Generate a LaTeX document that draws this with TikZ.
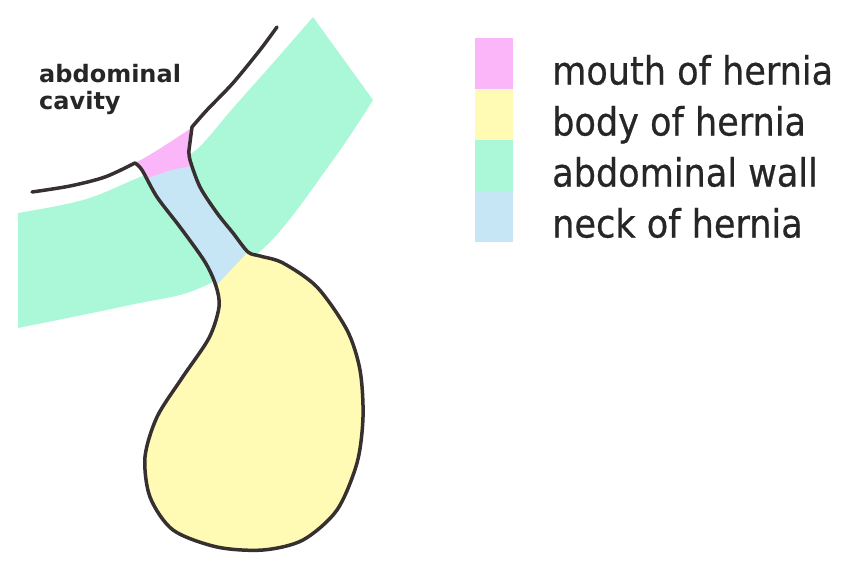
\documentclass[tikz,border=0pt]{standalone}
\usepackage{fontspec}
\setmainfont{DejaVu Sans}
\newfontfamily\keyfont[FakeBold=0.6]{DejaVu Sans Condensed}
\usepackage{tikz}
\usetikzlibrary{positioning}

\definecolor{mouthpink}{HTML}{FBB6FA}
\definecolor{sacyellow}{HTML}{FFFAB4}
\definecolor{wallgreen}{HTML}{AAF8D8}
\definecolor{neckblue}{HTML}{C6E6F6}
\definecolor{outline}{HTML}{363030}

\begin{document}
\begin{tikzpicture}[
    x=1pt, y=-1pt,
    edge/.style={draw=outline, line width=3.5pt, line join=round, line cap=round},
    swatch/.style={minimum width=38pt, minimum height=51pt, inner sep=0pt, outer sep=0pt},
    key/.style={font=\keyfont\fontsize{39}{40}\selectfont, text=black!85, anchor=base west, inner sep=0pt},
    label/.style={font=\bfseries\fontsize{24}{27}\selectfont, text=black!85, align=left, inner sep=0pt}
]
\useasboundingbox (0,0) rectangle (844,576);

% abdominal wall
\fill[wallgreen] plot[smooth, tension=0.6] coordinates {(18,213) (83,200) (133,180) (165,166) (196,150) (233,108) (273,63) (313,17)}
    -- (373,100)
    -- plot[smooth, tension=0.6] coordinates {(373,100) (333,160) (267,245) (200,288) (130,305) (18,328)}
    -- cycle;

% neck and mouth
\fill[neckblue] plot[smooth, tension=0.5] coordinates {(135,163) (142,170) (157,197) (180,227) (205,262) (216,288)}
    -- (250,253)
    -- plot[smooth, tension=0.5] coordinates {(250,253) (233,233) (217,213) (200,187) (190,160) (189,150)}
    -- (190,130) .. controls (160,150) .. (135,163) -- cycle;
\fill[mouthpink] (136,163) .. controls (158,150) .. (190,129) -- (191,166)
    .. controls (170,170) .. (148,178) -- cycle;

% body of the sac
\fill[sacyellow] plot[smooth, tension=0.6] coordinates {(216,286) (219,307) (209,338) (182,378) (157,417) (145,457) (150,497) (173,530) (217,547) (263,550) (303,540) (337,510) (357,463) (363,417) (360,370) (347,330) (317,287) (283,263) (260,256) (248,252)}
    -- cycle;

% peritoneum and sac wall
\draw[edge] plot[smooth, tension=0.5] coordinates {(32,192) (70,186) (105,177) (135,163)}
    -- plot[smooth, tension=0.5] coordinates {(135,163) (142,170) (157,197) (180,227) (205,262) (216,286) (219,307) (209,338) (182,378) (157,417) (145,457) (150,497) (173,530) (217,547) (263,550) (303,540) (337,510) (357,463) (363,417) (360,370) (347,330) (317,287) (283,263) (260,256) (248,252) (233,233) (217,213) (200,187) (190,160) (189,150)}
    -- (192,127)
    -- plot[smooth, tension=0.5] coordinates {(192,127) (207,110) (233,83) (260,50) (277,27)};

\node[label, anchor=base west] (cavity) at (39,109) {abdominal\\cavity};

% legend
\node[swatch, fill=mouthpink, anchor=north west] (mouthkey) at (475,38) {};
\node[swatch, fill=sacyellow, below=0pt of mouthkey] (bodykey) {};
\node[swatch, fill=wallgreen, below=0pt of bodykey] (wallkey) {};
\node[swatch, fill=neckblue, below=0pt of wallkey] (neckkey) {};

\node[key] (mouthtext) at ([xshift=39pt, yshift=-21pt]mouthkey.east) {mouth of hernia};
\node[key] (bodytext) at ([xshift=39pt, yshift=-21pt]bodykey.east) {body of hernia};
\node[key] (walltext) at ([xshift=39pt, yshift=-21pt]wallkey.east) {abdominal wall};
\node[key] (necktext) at ([xshift=39pt, yshift=-21pt]neckkey.east) {neck of hernia};

\end{tikzpicture}
\end{document}
